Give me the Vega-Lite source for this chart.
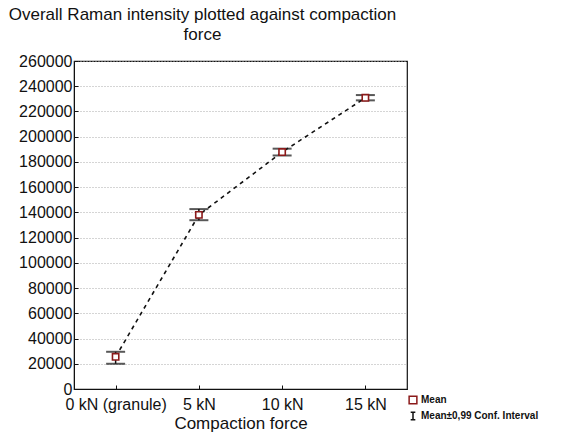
{
  "$schema": "https://vega.github.io/schema/vega-lite/v6.json",
  "width": 333,
  "height": 328,
  "padding": {"left": 8, "top": 6, "right": 5, "bottom": 2},
  "background": "white",
  "title": {
    "text": ["Overall Raman intensity plotted against compaction", "force"],
    "font": "Liberation Sans",
    "fontSize": 17,
    "fontWeight": "normal",
    "color": "#111",
    "anchor": "middle",
    "dx": -38,
    "lineHeight": 20,
    "offset": 9
  },
  "config": {
    "view": {"stroke": "#111", "strokeWidth": 1.2},
    "font": "Liberation Sans",
    "axisY": {
      "labelFontSize": 16,
      "labelColor": "#111",
      "labelPadding": 6,
      "labelOverlap": false,
      "labelFlush": false,
      "domainColor": "#111",
      "tickColor": "#111",
      "tickSize": -4,
      "grid": true,
      "gridColor": "#aaa",
      "gridDash": [1, 2],
      "gridWidth": 1
    }
  },
  "data": {
    "values": [
      {"force": "0 kN (granule)", "mean": 25500, "lo": 20000, "hi": 29500, "series": "Mean"},
      {"force": "5 kN", "mean": 138000, "lo": 133800, "hi": 142600, "series": "Mean"},
      {"force": "10 kN", "mean": 187800, "lo": 185100, "hi": 190500, "series": "Mean"},
      {"force": "15 kN", "mean": 230800, "lo": 228800, "hi": 233000, "series": "Mean"}
    ]
  },
  "encoding": {
    "x": {
      "field": "force",
      "type": "nominal",
      "sort": ["0 kN (granule)", "5 kN", "10 kN", "15 kN"],
      "scale": {"type": "point", "padding": 0.5},
      "axis": {
        "title": "Compaction force",
        "titleFont": "Liberation Sans",
        "titleFontSize": 17,
        "titleFontWeight": "normal",
        "titleColor": "#111",
        "titlePadding": 3,
        "labelAngle": 0,
        "labelFontSize": 16,
        "labelColor": "#111",
        "labelPadding": 11,
        "labelOverlap": false,
        "domainColor": "#111",
        "tickColor": "#111",
        "tickSize": -4,
        "grid": false
      }
    },
    "y": {
      "field": "mean",
      "type": "quantitative",
      "scale": {"domain": [0, 260000], "nice": false},
      "axis": {
        "title": null,
        "values": [0, 20000, 40000, 60000, 80000, 100000, 120000, 140000, 160000, 180000, 200000, 220000, 240000, 260000],
        "format": "d"
      }
    }
  },
  "layer": [
    {
      "mark": {"type": "line", "strokeDash": [4, 4], "strokeWidth": 1.6, "color": "#111"}
    },
    {
      "mark": {"type": "rule", "color": "#111", "strokeWidth": 1.5},
      "encoding": {
        "y": {"field": "lo", "type": "quantitative", "axis": {"title": null, "values": [0, 20000, 40000, 60000, 80000, 100000, 120000, 140000, 160000, 180000, 200000, 220000, 240000, 260000], "format": "d"}},
        "y2": {"field": "hi"}
      }
    },
    {
      "mark": {"type": "tick", "color": "#111", "size": 19, "thickness": 2},
      "encoding": {"y": {"field": "lo", "type": "quantitative", "axis": {"title": null, "values": [0, 20000, 40000, 60000, 80000, 100000, 120000, 140000, 160000, 180000, 200000, 220000, 240000, 260000], "format": "d"}}}
    },
    {
      "mark": {"type": "tick", "color": "#111", "size": 19, "thickness": 2},
      "encoding": {"y": {"field": "hi", "type": "quantitative", "axis": {"title": null, "values": [0, 20000, 40000, 60000, 80000, 100000, 120000, 140000, 160000, 180000, 200000, 220000, 240000, 260000], "format": "d"}}}
    },
    {
      "mark": {"type": "point", "filled": false, "strokeWidth": 1.6, "fill": "white", "fillOpacity": 1, "size": 40, "opacity": 1},
      "encoding": {
        "shape": {
          "field": "series",
          "type": "nominal",
          "scale": {
            "domain": ["Mean", "Mean±0,99 Conf. Interval"],
            "range": ["square", "M-0.6,-1H0.6M0,-1V1M-0.6,1H0.6"]
          },
          "legend": {
            "title": null,
            "orient": "none",
            "legendX": 334,
            "legendY": 334,
            "labelFontSize": 10,
            "labelFontWeight": "bold",
            "labelColor": "#111",
            "symbolSize": 60,
            "symbolStrokeWidth": 1.5,
            "rowPadding": 2,
            "labelOffset": 3
          }
        },
        "color": {
          "field": "series",
          "type": "nominal",
          "scale": {"domain": ["Mean", "Mean±0,99 Conf. Interval"], "range": ["#8b1a1a", "#111"]},
          "legend": {
            "title": null,
            "orient": "none",
            "legendX": 334,
            "legendY": 334,
            "labelFontSize": 10,
            "labelFontWeight": "bold",
            "labelColor": "#111",
            "symbolSize": 60,
            "symbolStrokeWidth": 1.5,
            "rowPadding": 2,
            "labelOffset": 3
          }
        }
      }
    }
  ]
}
